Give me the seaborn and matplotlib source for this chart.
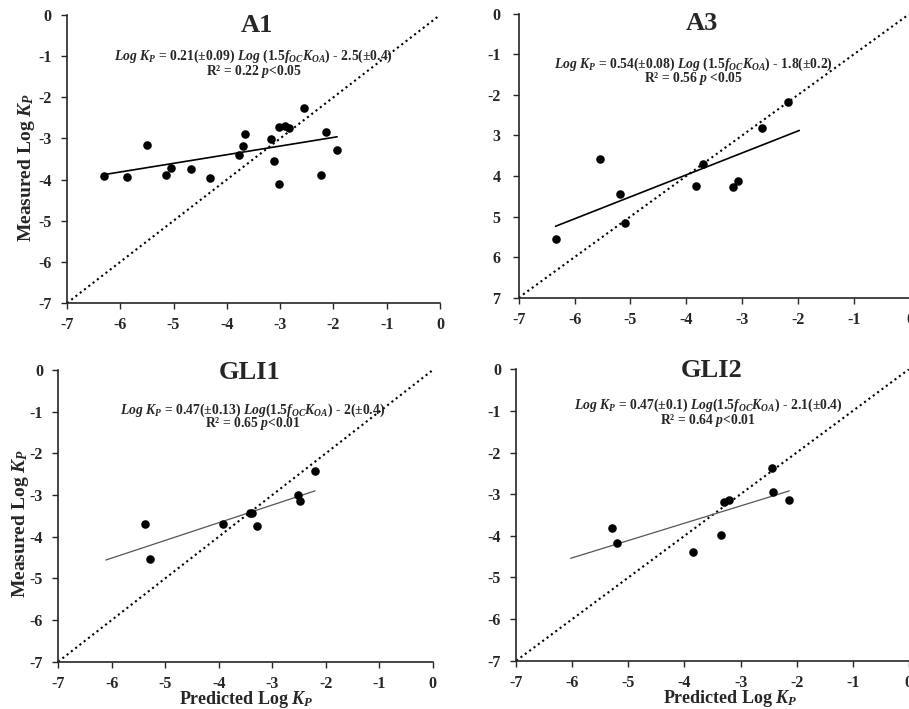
import numpy as np
import pandas as pd
import seaborn as sns
import matplotlib.pyplot as plt

# values (predicted vs measured log Kp)
a1_pred = [-6.31, -5.87, -5.50, -5.14, -5.04, -4.67, -4.31, -3.78, -3.70, -3.66,
           -3.17, -3.12, -3.03, -3.03, -2.91, -2.83, -2.56, -2.23, -2.13, -1.93]
a1_meas = [-3.92, -3.94, -3.16, -3.88, -3.71, -3.75, -3.97, -3.41, -3.18, -2.89,
           -3.01, -3.54, -2.72, -4.10, -2.70, -2.74, -2.27, -3.88, -2.85, -3.29]
a1_fit_x = [-6.31, -1.93]
a1_fit_y = [-3.88, -2.96]

a3_pred = [-6.34, -5.55, -5.18, -5.09, -3.83, -3.71, -3.16, -3.07, -2.64, -2.18]
a3_meas = [-5.55, -3.59, -4.44, -5.15, -4.26, -3.70, -4.27, -4.12, -2.81, -2.19]
a3_fit_x = [-6.34, -1.98]
a3_fit_y = [-5.24, -2.88]

gli1_pred = [-5.37, -5.28, -3.92, -3.42, -3.37, -3.29, -2.52, -2.49, -2.21]
gli1_meas = [-3.70, -4.54, -3.70, -3.43, -3.42, -3.75, -3.00, -3.14, -2.42]
gli1_fit_x = [-6.11, -2.20]
gli1_fit_y = [-4.56, -2.90]

gli2_pred = [-5.30, -5.21, -3.85, -3.35, -3.30, -3.21, -2.44, -2.42, -2.13]
gli2_meas = [-3.81, -4.18, -4.39, -3.98, -3.19, -3.14, -2.37, -2.94, -3.14]
gli2_fit_x = [-6.03, -2.13]
gli2_fit_y = [-4.54, -2.92]

one_to_one = [-7, 0]
ticks = [-7, -6, -5, -4, -3, -2, -1, 0]
a3_ytick_labels = ['7', '6', '5', '4', '3', '-2', '-1', '0']

titles = ['A1', 'A3', 'GLI1', 'GLI2']
eq_lines = [
    r'$\mathit{Log\ K_P}$ = 0.21(±0.09) $\mathit{Log\ (1.5f_{OC}K_{OA})}$ - 2.5(±0.4)',
    r'$\mathit{Log\ K_P}$ = 0.54(±0.08) $\mathit{Log\ (1.5f_{OC}K_{OA})}$ - 1.8(±0.2)',
    r'$\mathit{Log\ K_P}$ = 0.47(±0.13) $\mathit{Log(1.5f_{OC}K_{OA})}$ - 2(±0.4)',
    r'$\mathit{Log\ K_P}$ = 0.47(±0.1) $\mathit{Log(1.5f_{OC}K_{OA})}$ - 2.1(±0.4)',
]
r2_lines = [
    r'R² = 0.22 $\mathit{p}$<0.05',
    r'R² = 0.56 $\mathit{p}$ <0.05',
    r'R² = 0.65 $\mathit{p}$<0.01',
    r'R² = 0.64 $\mathit{p}$<0.01',
]

sns.set_style('ticks')
plt.rcParams['font.family'] = ['Liberation Serif', 'DejaVu Serif']
plt.rcParams['font.weight'] = 'bold'
plt.rcParams['mathtext.fontset'] = 'custom'
plt.rcParams['mathtext.rm'] = 'Liberation Serif:bold'
plt.rcParams['mathtext.it'] = 'Liberation Serif:italic:bold'
plt.rcParams['mathtext.bf'] = 'Liberation Serif:bold'
plt.rcParams['axes.unicode_minus'] = False

fig = plt.figure(figsize=(9.09, 7.09), dpi=100)
rects = [
    [0.0737, 0.5726, 0.4103, 0.4062],
    [0.5706, 0.5801, 0.4305, 0.4008],
    [0.0640, 0.0667, 0.4121, 0.4114],
    [0.5679, 0.0681, 0.4319, 0.4110],
]
panels = [
    (a1_pred, a1_meas, a1_fit_x, a1_fit_y, 'black', 1.2),
    (a3_pred, a3_meas, a3_fit_x, a3_fit_y, 'black', 1.2),
    (gli1_pred, gli1_meas, gli1_fit_x, gli1_fit_y, '#555555', 0.9),
    (gli2_pred, gli2_meas, gli2_fit_x, gli2_fit_y, '#555555', 0.9),
]
title_pos = [(0.509, 0.965), (0.468, 0.965), (0.512, 0.99), (0.498, 0.995)]
eq_pos = [(0.50, 0.855, 0.805), (0.446, 0.823, 0.770),
          (0.52, 0.861, 0.815), (0.489, 0.876, 0.824)]
ylabel_pos = {0: (-0.081, 0.469), 2: (-0.072, 0.474)}
xlabel_pos = {2: (0.503, -0.094), 3: (0.546, -0.094)}

for i, (px, my, fx, fy, lc, lw) in enumerate(panels):
    ax = fig.add_axes(rects[i])
    df = pd.DataFrame({'pred': px, 'meas': my})
    sns.lineplot(x=one_to_one, y=one_to_one, ax=ax, color='black',
                 linestyle=(0, (1, 1.6)), linewidth=1.5)
    sns.lineplot(x=fx, y=fy, ax=ax, color=lc, linewidth=lw)
    sns.scatterplot(data=df, x='pred', y='meas', ax=ax, color='black',
                    s=38, edgecolor='black', linewidth=0, zorder=3)
    ax.set_xlim(-7, 0)
    ax.set_ylim(-7, 0)
    ax.set_xticks(ticks)
    ax.set_yticks(ticks)
    if i == 1:
        ax.set_yticklabels(a3_ytick_labels)
    ax.tick_params(labelsize=11.5, length=4, width=1, direction='out')
    ax.tick_params(axis='x', pad=6)
    ax.tick_params(axis='y', pad=9 if i == 1 else 7)
    for lab in ax.get_xticklabels() + ax.get_yticklabels():
        lab.set_fontweight('bold')
    sns.despine(ax=ax)
    ax.spines['left'].set_linewidth(1.2)
    ax.spines['bottom'].set_linewidth(1.2)
    ax.set_xlabel('')
    ax.set_ylabel('')
    if i in ylabel_pos:
        ax.set_ylabel(r'Measured Log $\mathit{K_P}$', fontsize=14,
                      fontweight='bold')
        ax.yaxis.set_label_coords(*ylabel_pos[i])
    if i in xlabel_pos:
        ax.set_xlabel(r'Predicted Log $\mathit{K_P}$', fontsize=13,
                      fontweight='bold')
        ax.xaxis.set_label_coords(*xlabel_pos[i])
    tx, ty = title_pos[i]
    ax.text(tx, ty, titles[i], transform=ax.transAxes, ha='center', va='center',
            fontsize=19, fontweight='bold')
    ex, e1, e2 = eq_pos[i]
    ax.text(ex, e1, eq_lines[i], transform=ax.transAxes, ha='center',
            va='center', fontsize=9.8, fontweight='bold')
    ax.text(ex, e2, r2_lines[i], transform=ax.transAxes, ha='center',
            va='center', fontsize=9.8, fontweight='bold')

fig.savefig('out.png', dpi=100)
